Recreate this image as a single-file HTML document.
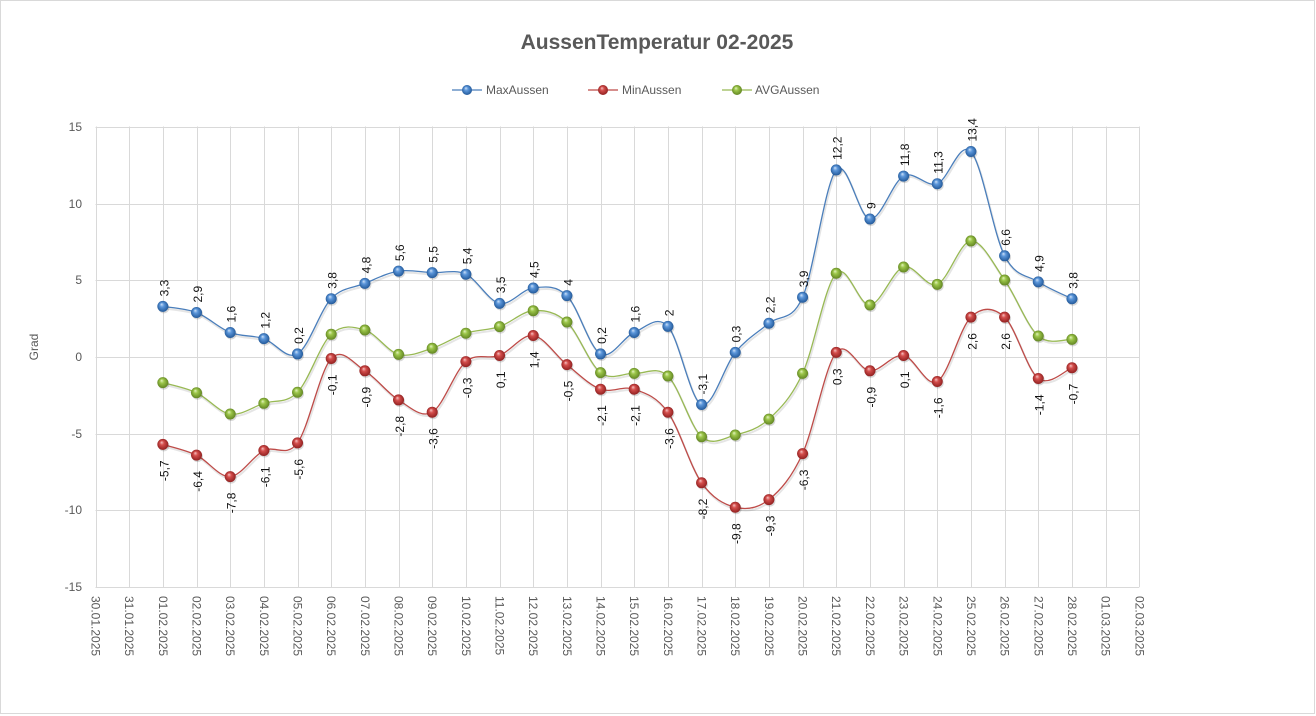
<!DOCTYPE html>
<html>
<head>
<meta charset="utf-8">
<style>
  html,body{margin:0;padding:0;background:#fff;}
  svg{display:block;}
  .ax{font-family:"Liberation Sans",Arial,sans-serif;font-size:12px;fill:#595959;}
  .dl{font-family:"Liberation Sans",Arial,sans-serif;font-size:12px;fill:#111;}
</style>
</head>
<body>
<svg id="c" width="1316" height="716" viewBox="0 0 1316 716" xmlns="http://www.w3.org/2000/svg">
  <defs>
    <radialGradient id="gb" cx="50%" cy="50%" r="55%" fx="38%" fy="30%">
      <stop offset="0%" stop-color="#cfe2f8"/>
      <stop offset="35%" stop-color="#5b96da"/>
      <stop offset="100%" stop-color="#1d5393"/>
    </radialGradient>
    <radialGradient id="gr" cx="50%" cy="50%" r="55%" fx="38%" fy="30%">
      <stop offset="0%" stop-color="#f6c4c4"/>
      <stop offset="35%" stop-color="#d44e4c"/>
      <stop offset="100%" stop-color="#8a1c1c"/>
    </radialGradient>
    <radialGradient id="gg" cx="50%" cy="50%" r="55%" fx="38%" fy="30%">
      <stop offset="0%" stop-color="#e4f3c0"/>
      <stop offset="35%" stop-color="#9cc64a"/>
      <stop offset="100%" stop-color="#5c7f1e"/>
    </radialGradient>
  </defs>
  <rect x="0.5" y="0.5" width="1314" height="713" fill="#fff" stroke="#d9d9d9" stroke-width="1"/>

  <!-- title -->
  <text x="657" y="49" text-anchor="middle" font-family="Liberation Sans, Arial, sans-serif" font-size="21" font-weight="bold" fill="#595959">AussenTemperatur 02-2025</text>

  <!-- legend -->
  <line x1="452" y1="90" x2="482" y2="90" stroke="#4a7ebb" stroke-width="1.3"/>
  <circle cx="467" cy="90" r="5" fill="url(#gb)"/>
  <text class="ax" x="486" y="94">MaxAussen</text>
  <line x1="588" y1="90" x2="618" y2="90" stroke="#be4b48" stroke-width="1.3"/>
  <circle cx="603" cy="90" r="5" fill="url(#gr)"/>
  <text class="ax" x="622" y="94">MinAussen</text>
  <line x1="722" y1="90" x2="752" y2="90" stroke="#98b954" stroke-width="1.3"/>
  <circle cx="737" cy="90" r="5" fill="url(#gg)"/>
  <text class="ax" x="755" y="94">AVGAussen</text>

  <g id="grid" stroke="#d9d9d9" stroke-width="1"></g>

  <!-- y axis labels -->
  <g class="ax" text-anchor="end">
    <text x="82" y="131">15</text>
    <text x="82" y="208">10</text>
    <text x="82" y="284">5</text>
    <text x="82" y="361">0</text>
    <text x="82" y="438">-5</text>
    <text x="82" y="514">-10</text>
    <text x="82" y="591">-15</text>
  </g>
  <text class="ax" transform="translate(34,347) rotate(-90)" text-anchor="middle" dominant-baseline="central">Grad</text>

  <!-- x axis labels -->
  <g class="ax" dominant-baseline="central">
    <text transform="translate(95.5,596) rotate(90)">30.01.2025</text>
    <text transform="translate(129.17,596) rotate(90)">31.01.2025</text>
    <text transform="translate(162.84,596) rotate(90)">01.02.2025</text>
    <text transform="translate(196.51,596) rotate(90)">02.02.2025</text>
    <text transform="translate(230.18,596) rotate(90)">03.02.2025</text>
    <text transform="translate(263.85,596) rotate(90)">04.02.2025</text>
    <text transform="translate(297.52,596) rotate(90)">05.02.2025</text>
    <text transform="translate(331.19,596) rotate(90)">06.02.2025</text>
    <text transform="translate(364.86,596) rotate(90)">07.02.2025</text>
    <text transform="translate(398.53,596) rotate(90)">08.02.2025</text>
    <text transform="translate(432.2,596) rotate(90)">09.02.2025</text>
    <text transform="translate(465.87,596) rotate(90)">10.02.2025</text>
    <text transform="translate(499.54,596) rotate(90)">11.02.2025</text>
    <text transform="translate(533.21,596) rotate(90)">12.02.2025</text>
    <text transform="translate(566.88,596) rotate(90)">13.02.2025</text>
    <text transform="translate(600.55,596) rotate(90)">14.02.2025</text>
    <text transform="translate(634.22,596) rotate(90)">15.02.2025</text>
    <text transform="translate(667.89,596) rotate(90)">16.02.2025</text>
    <text transform="translate(701.56,596) rotate(90)">17.02.2025</text>
    <text transform="translate(735.23,596) rotate(90)">18.02.2025</text>
    <text transform="translate(768.9,596) rotate(90)">19.02.2025</text>
    <text transform="translate(802.57,596) rotate(90)">20.02.2025</text>
    <text transform="translate(836.24,596) rotate(90)">21.02.2025</text>
    <text transform="translate(869.91,596) rotate(90)">22.02.2025</text>
    <text transform="translate(903.58,596) rotate(90)">23.02.2025</text>
    <text transform="translate(937.25,596) rotate(90)">24.02.2025</text>
    <text transform="translate(970.92,596) rotate(90)">25.02.2025</text>
    <text transform="translate(1004.59,596) rotate(90)">26.02.2025</text>
    <text transform="translate(1038.26,596) rotate(90)">27.02.2025</text>
    <text transform="translate(1071.93,596) rotate(90)">28.02.2025</text>
    <text transform="translate(1105.6,596) rotate(90)">01.03.2025</text>
    <text transform="translate(1139.27,596) rotate(90)">02.03.2025</text>
  </g>

  <g id="series"></g>

  <!-- Max labels -->
  <g class="dl" dominant-baseline="central" text-anchor="start">
    <text transform="translate(164.3,296.4) rotate(-90)">3,3</text>
    <text transform="translate(198,302.5) rotate(-90)">2,9</text>
    <text transform="translate(231.7,322.5) rotate(-90)">1,6</text>
    <text transform="translate(265.3,328.6) rotate(-90)">1,2</text>
    <text transform="translate(299,343.9) rotate(-90)">0,2</text>
    <text transform="translate(332.7,288.7) rotate(-90)">3,8</text>
    <text transform="translate(366.4,273.4) rotate(-90)">4,8</text>
    <text transform="translate(400,261.1) rotate(-90)">5,6</text>
    <text transform="translate(433.7,262.7) rotate(-90)">5,5</text>
    <text transform="translate(467.4,264.2) rotate(-90)">5,4</text>
    <text transform="translate(501,293.3) rotate(-90)">3,5</text>
    <text transform="translate(534.7,278) rotate(-90)">4,5</text>
    <text transform="translate(568.4,285.7) rotate(-90)">4</text>
    <text transform="translate(602,343.9) rotate(-90)">0,2</text>
    <text transform="translate(635.7,322.5) rotate(-90)">1,6</text>
    <text transform="translate(669.4,316.3) rotate(-90)">2</text>
    <text transform="translate(703,394.5) rotate(-90)">-3,1</text>
    <text transform="translate(736.7,342.4) rotate(-90)">0,3</text>
    <text transform="translate(770.4,313.3) rotate(-90)">2,2</text>
    <text transform="translate(804,287.2) rotate(-90)">3,9</text>
    <text transform="translate(837.7,159.9) rotate(-90)">12,2</text>
    <text transform="translate(871.4,209) rotate(-90)">9</text>
    <text transform="translate(905,166.1) rotate(-90)">11,8</text>
    <text transform="translate(938.7,173.7) rotate(-90)">11,3</text>
    <text transform="translate(972.4,141.5) rotate(-90)">13,4</text>
    <text transform="translate(1006,245.8) rotate(-90)">6,6</text>
    <text transform="translate(1039.7,271.9) rotate(-90)">4,9</text>
    <text transform="translate(1073.4,288.7) rotate(-90)">3,8</text>
  </g>

  <!-- Min labels -->
  <g class="dl" dominant-baseline="central" text-anchor="end">
    <text transform="translate(164.3,460.4) rotate(-90)">-5,7</text>
    <text transform="translate(198,471.1) rotate(-90)">-6,4</text>
    <text transform="translate(231.7,492.6) rotate(-90)">-7,8</text>
    <text transform="translate(265.3,466.5) rotate(-90)">-6,1</text>
    <text transform="translate(299,458.9) rotate(-90)">-5,6</text>
    <text transform="translate(332.7,374.5) rotate(-90)">-0,1</text>
    <text transform="translate(366.4,386.8) rotate(-90)">-0,9</text>
    <text transform="translate(400,415.9) rotate(-90)">-2,8</text>
    <text transform="translate(433.7,428.2) rotate(-90)">-3,6</text>
    <text transform="translate(467.4,377.6) rotate(-90)">-0,3</text>
    <text transform="translate(501,371.5) rotate(-90)">0,1</text>
    <text transform="translate(534.7,351.5) rotate(-90)">1,4</text>
    <text transform="translate(568.4,380.7) rotate(-90)">-0,5</text>
    <text transform="translate(602,405.2) rotate(-90)">-2,1</text>
    <text transform="translate(635.7,405.2) rotate(-90)">-2,1</text>
    <text transform="translate(669.4,428.2) rotate(-90)">-3,6</text>
    <text transform="translate(703,498.7) rotate(-90)">-8,2</text>
    <text transform="translate(736.7,523.3) rotate(-90)">-9,8</text>
    <text transform="translate(770.4,515.6) rotate(-90)">-9,3</text>
    <text transform="translate(804,469.6) rotate(-90)">-6,3</text>
    <text transform="translate(837.7,368.4) rotate(-90)">0,3</text>
    <text transform="translate(871.4,386.8) rotate(-90)">-0,9</text>
    <text transform="translate(905,371.5) rotate(-90)">0,1</text>
    <text transform="translate(938.7,397.5) rotate(-90)">-1,6</text>
    <text transform="translate(972.4,333.1) rotate(-90)">2,6</text>
    <text transform="translate(1006,333.1) rotate(-90)">2,6</text>
    <text transform="translate(1039.7,394.5) rotate(-90)">-1,4</text>
    <text transform="translate(1073.4,383.7) rotate(-90)">-0,7</text>
  </g>
</svg>
<script>
(function(){
  var NS="http://www.w3.org/2000/svg";
  var x0=95.5, step=33.67, y0=357, ys=15.3333;
  var grid=document.getElementById('grid');
  function ln(x1,y1,x2,y2){var l=document.createElementNS(NS,'line');l.setAttribute('x1',x1);l.setAttribute('y1',y1);l.setAttribute('x2',x2);l.setAttribute('y2',y2);grid.appendChild(l);}
  for(var v=-15;v<=15;v+=5){var y=Math.round(y0-v*ys)+0.5;ln(x0,y,x0+31*step,y);}
  for(var i=0;i<=31;i++){var x=Math.round(x0+i*step)+0.5;ln(x,126.5,x,587);}
  var max=[3.3,2.9,1.6,1.2,0.2,3.8,4.8,5.6,5.5,5.4,3.5,4.5,4,0.2,1.6,2,-3.1,0.3,2.2,3.9,12.2,9,11.8,11.3,13.4,6.6,4.9,3.8];
  var min=[-5.7,-6.4,-7.8,-6.1,-5.6,-0.1,-0.9,-2.8,-3.6,-0.3,0.1,1.4,-0.5,-2.1,-2.1,-3.6,-8.2,-9.8,-9.3,-6.3,0.3,-0.9,0.1,-1.6,2.6,2.6,-1.4,-0.7];
  var avg=[-1.67,-2.33,-3.72,-3.02,-2.3,1.48,1.76,0.17,0.57,1.55,1.98,3.02,2.28,-1.02,-1.07,-1.24,-5.2,-5.09,-4.05,-1.07,5.46,3.39,5.87,4.74,7.57,5.02,1.37,1.15];
  var g=document.getElementById('series');
  function series(data,color){
    var p=data.map(function(v,i){return [x0+(i+2)*step, y0-v*ys];});
    var d='M'+p[0][0].toFixed(2)+','+p[0][1].toFixed(2);
    for(var i=0;i<p.length-1;i++){
      var a=p[i-1]||p[i], b=p[i], c=p[i+1], e=p[i+2]||p[i+1];
      var c1=[b[0]+(c[0]-a[0])/6, b[1]+(c[1]-a[1])/6];
      var c2=[c[0]-(e[0]-b[0])/6, c[1]-(e[1]-b[1])/6];
      d+=' C'+c1[0].toFixed(2)+','+c1[1].toFixed(2)+' '+c2[0].toFixed(2)+','+c2[1].toFixed(2)+' '+c[0].toFixed(2)+','+c[1].toFixed(2);
    }
    var sh=document.createElementNS(NS,'path');
    sh.setAttribute('d',d);sh.setAttribute('fill','none');sh.setAttribute('stroke','rgba(0,0,0,0.10)');sh.setAttribute('stroke-width','2');sh.setAttribute('transform','translate(1,2)');
    g.appendChild(sh);
    var path=document.createElementNS(NS,'path');
    path.setAttribute('d',d);path.setAttribute('fill','none');path.setAttribute('stroke',color);path.setAttribute('stroke-width','1.3');
    g.appendChild(path);
    return p;
  }
  var sets=[[avg,'#98b954','url(#gg)'],[min,'#be4b48','url(#gr)'],[max,'#4a7ebb','url(#gb)']];
  var pts=sets.map(function(s){return series(s[0],s[1]);});
  pts.forEach(function(p,k){
    p.forEach(function(q){
      var s=document.createElementNS(NS,'circle');
      s.setAttribute('cx',q[0]+1);s.setAttribute('cy',q[1]+1.5);s.setAttribute('r',5.5);s.setAttribute('fill','rgba(0,0,0,0.15)');
      g.appendChild(s);
      var c=document.createElementNS(NS,'circle');
      c.setAttribute('cx',q[0]);c.setAttribute('cy',q[1]);c.setAttribute('r',5.5);c.setAttribute('fill',sets[k][2]);
      g.appendChild(c);
    });
  });
})();
</script>
</body>
</html>
